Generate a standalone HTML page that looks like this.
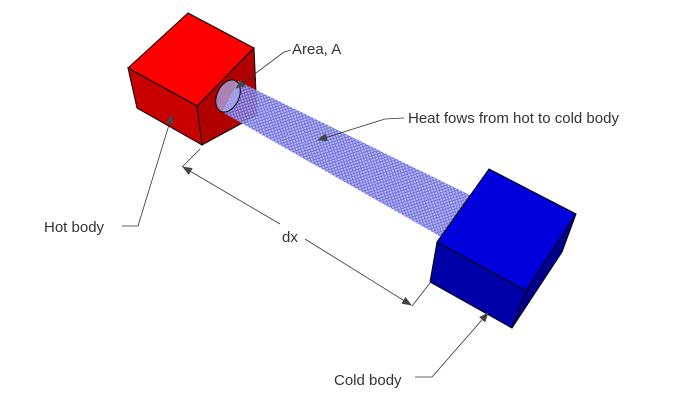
<!DOCTYPE html>
<html><head><style>
html,body{margin:0;padding:0;background:#fff;}
svg{display:block;}
text{font-family:"Liberation Sans",sans-serif;font-size:15px;fill:#333;}
</style></head><body>
<svg width="685" height="416" viewBox="0 0 685 416">
<defs>
<pattern id="mesh" width="4" height="4" patternUnits="userSpaceOnUse" patternTransform="rotate(27)">
<rect width="4" height="4" fill="#b8b8f0"/>
<path d="M0 0L4 4M4 0L0 4" stroke="#5a5ad8" stroke-width="0.9"/>
</pattern>
<marker id="ar" markerWidth="10" markerHeight="8" refX="9" refY="4" orient="auto" markerUnits="userSpaceOnUse">
<path d="M0 0L10 4L0 8z" fill="#444"/>
</marker>
</defs>
<!-- red cube -->
<polygon points="188,13 254,48 197,106 128,68" fill="#ff0000" stroke="#000" stroke-width="1"/>
<polygon points="128,68 197,106 202,145 137,108" fill="#c80000" stroke="#000" stroke-width="1"/>
<polygon points="254,48 257,115 202,145 197,106" fill="#b00000" stroke="#000" stroke-width="1"/>
<!-- tube -->
<polygon points="238,81 480,200 450,242 222,112" fill="url(#mesh)" opacity="0.9"/>
<ellipse cx="228" cy="96" rx="11" ry="17" transform="rotate(25 228 96)" fill="#a8aef0" fill-opacity="0.75" stroke="#000" stroke-width="1"/>
<!-- blue cube -->
<polygon points="489,169 576,214 526,291 437,242" fill="#0000dd" stroke="#000" stroke-width="1"/>
<polygon points="437,242 526,291 512,328 430,282" fill="#0000a8" stroke="#000" stroke-width="1"/>
<polygon points="576,214 526,291 512,328 562,252" fill="#000090" stroke="#000" stroke-width="1"/>
<!-- dimension -->
<g stroke="#333" stroke-width="0.8" fill="none">
<line x1="182" y1="167" x2="200" y2="149"/>
<line x1="412" y1="306" x2="430" y2="283"/>
<line x1="280" y1="224" x2="183" y2="167" marker-end="url(#ar)"/>
<line x1="305" y1="239" x2="411" y2="305" marker-end="url(#ar)"/>
<polyline points="122,226 138,226 172,115" marker-end="url(#ar)"/>
<polyline points="415,377 432,377 488,313" marker-end="url(#ar)"/>
<polyline points="291,50 284,52 236,88" marker-end="url(#ar)"/>
<polyline points="404,118 385,119 318,140" marker-end="url(#ar)"/>
</g>
<text x="282" y="242">dx</text>
<text x="44" y="232">Hot body</text>
<text x="334" y="385">Cold body</text>
<text x="292" y="54">Area, A</text>
<text x="408" y="123">Heat fows from hot to cold body</text>
</svg>
</body></html>
